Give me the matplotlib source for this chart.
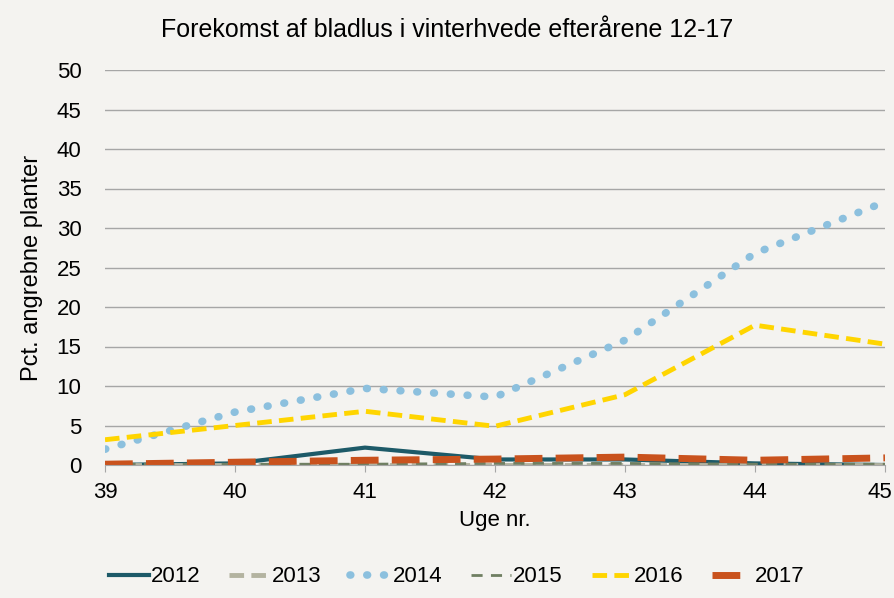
import matplotlib.pyplot as plt
from matplotlib.transforms import ScaledTranslation

# Week numbers and percentage of attacked plants per year
weeks = [39, 40, 41, 42, 43, 44, 45]
y2012 = [0.0, 0.2, 2.2, 0.7, 0.7, 0.2, 0.0]
y2013 = [0.0, 0.0, 0.0, 0.0, 0.0, 0.0, 0.0]
y2014 = [2.0, 6.7, 9.7, 8.6, 15.8, 26.8, 33.3]
y2015 = [0.1, 0.1, 0.1, 0.2, 0.2, 0.1, 0.1]
y2016 = [3.2, 5.0, 6.8, 4.9, 8.9, 17.7, 15.3]
y2017 = [0.1, 0.35, 0.6, 0.75, 1.0, 0.6, 0.9]

plt.rcParams['font.family'] = ['Liberation Sans', 'DejaVu Sans']
bg = '#f4f3f0'
fs = 16

fig = plt.figure(figsize=(8.95, 5.98), dpi=100, facecolor=bg)
ax = fig.add_axes([105/895, 133/598, 780/895, 395/598], facecolor=bg)

ax.plot(weeks, y2012, color='#1d5a68', lw=3, label='2012')
ax.plot(weeks, y2013, color='#b3b3a0', lw=3.5, dashes=(3, 1.5), label='2013')
ax.plot(weeks, y2014, color='#8cc0de', lw=5.5, linestyle=(0, (0.1, 2.1)),
        dash_capstyle='round', label='2014')
ax.plot(weeks, y2015, color='#6f7f62', lw=2, dashes=(4, 3), label='2015')
ax.plot(weeks, y2016, color='#ffd500', lw=3.5, dashes=(3, 1.5), label='2016')
ax.plot(weeks, y2017, color='#c9521d', lw=5, dashes=(4, 1.9), label='2017')

ax.set_xlim(39, 45)
ax.set_ylim(0, 50)
ax.set_yticks(range(0, 51, 5))
ax.set_xticks(weeks)
ax.grid(axis='y', color='#a6a6a6', lw=1)
ax.set_axisbelow(True)
for s in ['top', 'right', 'left']:
    ax.spines[s].set_visible(False)
ax.spines['bottom'].set_color('#a6a6a6')
ax.tick_params(axis='y', length=0, labelsize=fs, pad=17)
ax.tick_params(axis='x', length=5, color='#a6a6a6', labelsize=fs, pad=7)

# last tick label sits at the figure edge; keep it inside like the original
last = ax.xaxis.get_major_ticks()[-1].label1
last.set_horizontalalignment('right')
last.set_transform(last.get_transform() + ScaledTranslation(0.07, 0, fig.dpi_scale_trans))

ax.set_xlabel('Uge nr.', fontsize=fs, labelpad=5)
ax.set_ylabel('Pct. angrebne planter', fontsize=fs + 1, labelpad=10)
fig.text(0.5, 1 - 30/598, 'Forekomst af bladlus i vinterhvede efterårene 12-17',
         ha='center', va='center', fontsize=18)

fig.legend(loc='center', bbox_to_anchor=(0.51, 1 - 577/598), ncol=6, frameon=False,
           fontsize=fs, handlelength=1.8, handletextpad=0.1, columnspacing=1.3)

plt.savefig('out.png', dpi=100, facecolor=bg)
